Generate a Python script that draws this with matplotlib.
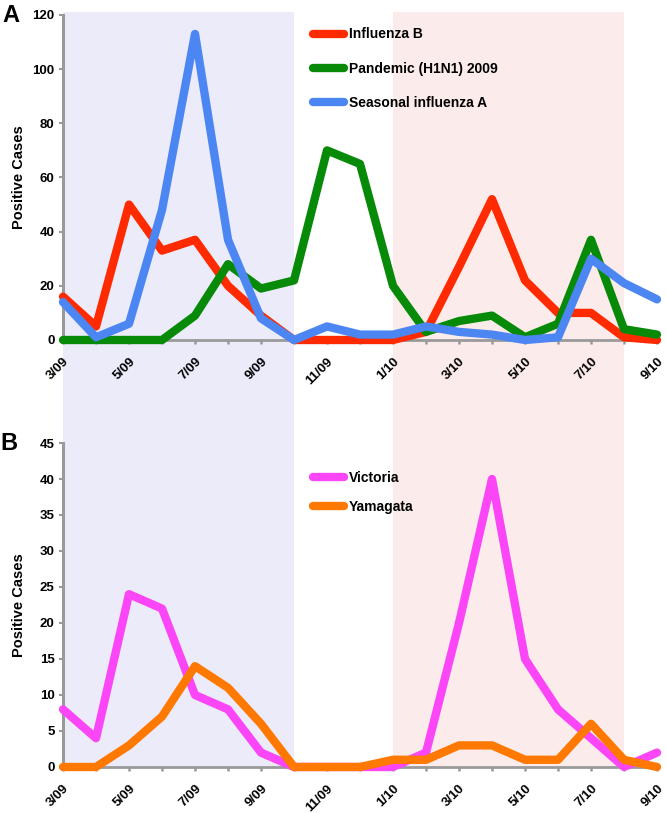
import matplotlib
matplotlib.use("Agg")
import matplotlib.pyplot as plt
import matplotlib.transforms as mtransforms
from matplotlib.patches import Rectangle

plt.rcParams['font.family'] = ['Liberation Sans', 'DejaVu Sans']

months = ['3/09', '4/09', '5/09', '6/09', '7/09', '8/09', '9/09', '10/09', '11/09', '12/09',
          '1/10', '2/10', '3/10', '4/10', '5/10', '6/10', '7/10', '8/10', '9/10']

# panel A
influenza_b = [16, 5, 50, 33, 37, 20, 9, 0, 0, 0, 0, 3, 27, 52, 22, 10, 10, 1, 0]
pandemic_h1n1 = [0, 0, 0, 0, 9, 28, 19, 22, 70, 65, 20, 3, 7, 9, 1, 6, 37, 4, 2]
seasonal_a = [14, 1, 6, 48, 113, 37, 8, 0, 5, 2, 2, 5, 3, 2, 0, 1, 30, 21, 15]

# panel B
victoria = [8, 4, 24, 22, 10, 8, 2, 0, 0, 0, 0, 2, 20, 40, 15, 8, 4, 0, 2]
yamagata = [0, 0, 3, 7, 14, 11, 6, 0, 0, 0, 1, 1, 3, 3, 1, 1, 6, 1, 0]

x = list(range(len(months)))
grey = '#9a9a9a'

fig = plt.figure(figsize=(6.66, 8.13), dpi=100)
ax1 = fig.add_axes([0.0946, 0.5818, 0.8919, 0.3998])
ax2 = fig.add_axes([0.0946, 0.0566, 0.8919, 0.3985])

# shaded seasons, running through both panels
trans = mtransforms.blended_transform_factory(ax1.transData, fig.transFigure)
y_lo, y_hi = 1 - 768 / 813, 1 - 12 / 813
fig.add_artist(Rectangle((0, y_lo), 7, y_hi - y_lo, transform=trans,
                         facecolor='#ebebfa', edgecolor='none', zorder=-2))
fig.add_artist(Rectangle((10, y_lo), 7, y_hi - y_lo, transform=trans,
                         facecolor='#fcebeb', edgecolor='none', zorder=-2))

lw = 6
line_kw = dict(linewidth=lw, solid_capstyle='round', solid_joinstyle='round',
               clip_on=False, zorder=5)

ax1.plot(x, influenza_b, color='#ff2a00', label='Influenza B', **line_kw)
ax1.plot(x, pandemic_h1n1, color='#078a07', label='Pandemic (H1N1) 2009', **line_kw)
ax1.plot(x, seasonal_a, color='#4c86f2', label='Seasonal influenza A', **line_kw)

ax2.plot(x, victoria, color='#fa46f7', label='Victoria', **line_kw)
ax2.plot(x, yamagata, color='#ff7800', label='Yamagata', **line_kw)


def style_axis(ax, ymax, step):
    ax.set_facecolor('none')
    ax.set_xlim(0, 18)
    ax.set_ylim(0, ymax)
    ax.set_yticks(range(0, ymax + 1, step))
    ax.set_xticks(x)
    ax.set_xticklabels([m if i % 2 == 0 else '' for i, m in enumerate(months)],
                       rotation=45, ha='right', rotation_mode='anchor',
                       fontsize=9.5, fontweight='bold')
    for lab in ax.get_yticklabels():
        lab.set_fontweight('bold')
        lab.set_fontsize(9.5)
    ax.spines['top'].set_visible(False)
    ax.spines['right'].set_visible(False)
    ax.spines['left'].set_color(grey)
    ax.spines['left'].set_linewidth(2.2)
    ax.spines['bottom'].set_color(grey)
    ax.spines['bottom'].set_linewidth(2.0)
    ax.tick_params(axis='x', length=3, width=1.8, color=grey, pad=8)
    ax.tick_params(axis='y', length=3, width=1.5, color=grey, pad=3)
    ax.set_ylabel('Positive Cases', fontsize=10.5, fontweight='bold')
    ax.yaxis.set_label_coords(-0.062, 0.5)


style_axis(ax1, 120, 20)
style_axis(ax2, 45, 5)

ax1.legend(loc='upper left', bbox_to_anchor=(0.41, 0.983), frameon=False,
           borderpad=0, handlelength=2.2, handletextpad=0.35, labelspacing=1.45,
           prop={'size': 10, 'weight': 'bold'})
ax2.legend(loc='upper left', bbox_to_anchor=(0.41, 0.935), frameon=False,
           borderpad=0, handlelength=2.2, handletextpad=0.35, labelspacing=1.05,
           prop={'size': 10, 'weight': 'bold'})

fig.text(0.003, 1 - 15 / 813, 'A', fontsize=17, fontweight='bold', va='center')
fig.text(0.0, 1 - 443 / 813, 'B', fontsize=17, fontweight='bold', va='center')

fig.savefig('out.png', dpi=100)
